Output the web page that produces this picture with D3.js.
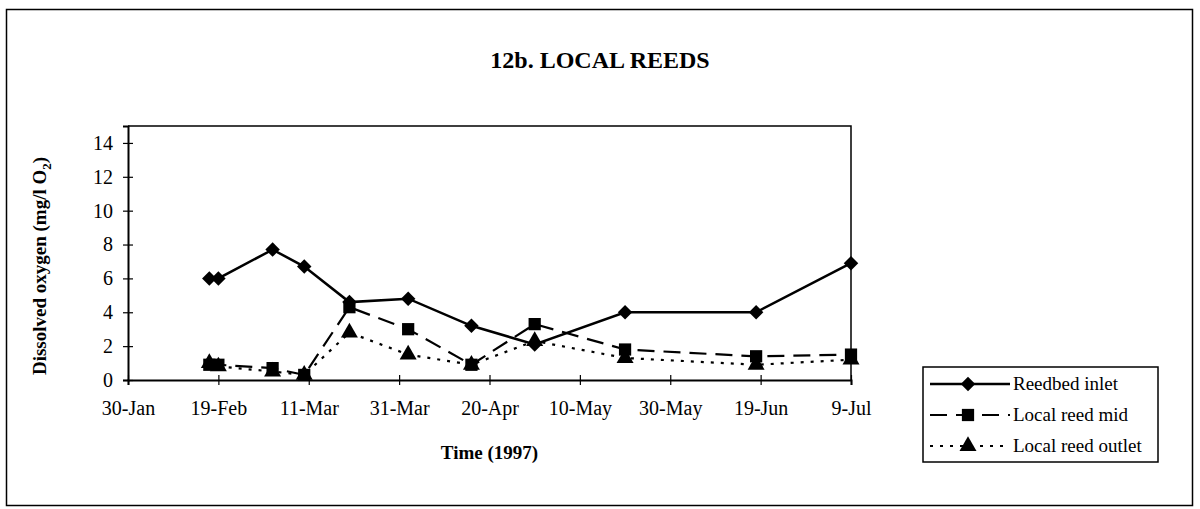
<!DOCTYPE html>
<html>
<head>
<meta charset="utf-8">
<script src="https://cdn.jsdelivr.net/npm/d3@7"></script>
<style>
  body { margin: 0; background: #fff; }
  svg { display: block; }
  text { font-family: "Liberation Serif", "Times New Roman", serif; fill: #000; }
</style>
</head>
<body>
<svg id="chart"></svg>
<script>
// Data (mg/l O2)
const dates = ['1997-02-17', '1997-02-19', '1997-03-03', '1997-03-10', '1997-03-20',
               '1997-04-02', '1997-04-16', '1997-04-30', '1997-05-20', '1997-06-18', '1997-07-09'];
const inlet  = [6.0, 6.0, 7.7, 6.7, 4.6, 4.8, 3.2, 2.1, 4.0, 4.0, 6.9];
const mid    = [0.9, 0.9, 0.7, 0.3, 4.3, 3.0, 0.9, 3.3, 1.8, 1.4, 1.5];
const outlet = [1.0, 0.8, 0.5, 0.3, 2.8, 1.5, 0.9, 2.3, 1.3, 0.9, 1.2];
const xTicks = ['1997-01-30', '1997-02-19', '1997-03-11', '1997-03-31', '1997-04-20',
                '1997-05-10', '1997-05-30', '1997-06-19', '1997-07-09'];
const yTicks = [0, 2, 4, 6, 8, 10, 12, 14];
const seriesNames = ['Reedbed inlet', 'Local reed mid', 'Local reed outlet'];

const W = 1200, H = 509;
const plotLeft = 128, plotRight = 851, plotTop = 126, plotBottom = 380;

const parse = d3.timeParse('%Y-%m-%d');
const fmt = d3.timeFormat('%-d-%b');

const svg = d3.select('#chart').attr('width', W).attr('height', H);

// outer frame
svg.append('rect')
    .attr('x', 6.5).attr('y', 9.5)
    .attr('width', 1186).attr('height', 496)
    .attr('fill', 'none').attr('stroke', '#000').attr('stroke-width', 1.5);

// title
svg.append('text')
    .attr('x', 600).attr('y', 68)
    .attr('text-anchor', 'middle')
    .style('font-weight', 'bold').style('font-size', '24px')
    .text('12b. LOCAL REEDS');

const x = d3.scaleTime()
    .domain([parse(xTicks[0]), parse(xTicks[xTicks.length - 1])])
    .range([plotLeft, plotRight]);
const y = d3.scaleLinear().domain([0, 15]).range([plotBottom, plotTop]);

// plot box (top and right)
svg.append('path')
    .attr('d', `M${plotLeft},${plotTop}H${plotRight}V${plotBottom}`)
    .attr('fill', 'none').attr('stroke', '#000').attr('stroke-width', 1.5);

// axes
const xAxis = svg.append('g')
    .attr('transform', `translate(0,${plotBottom})`)
    .call(d3.axisBottom(x).tickValues(xTicks.map(parse)).tickFormat(fmt).tickSize(5).tickPadding(16));
const yAxis = svg.append('g')
    .attr('transform', `translate(${plotLeft},0)`)
    .call(d3.axisLeft(y).tickValues(yTicks).tickSize(5).tickPadding(10));

[xAxis, yAxis].forEach(g => {
    g.select('.domain').attr('stroke', '#000').attr('stroke-width', 2);
    g.selectAll('text').style('font-size', '20px').style('font-family', '"Liberation Serif", serif');
});
// ticks cross the axis
xAxis.selectAll('.tick line').attr('y1', -5).attr('stroke-width', 1.2);
yAxis.selectAll('.tick line').attr('x1', 5).attr('stroke-width', 1.2);

// axis titles
svg.append('text')
    .attr('x', (plotLeft + plotRight) / 2).attr('y', 459)
    .attr('text-anchor', 'middle')
    .style('font-weight', 'bold').style('font-size', '19px')
    .text('Time (1997)');

const yt = svg.append('text')
    .attr('transform', `translate(46,266) rotate(-90)`)
    .attr('text-anchor', 'middle')
    .style('font-weight', 'bold').style('font-size', '19px');
yt.append('tspan').text('Dissolved oxygen (mg/l O');
yt.append('tspan').attr('dy', 5).style('font-size', '13px').text('2');
yt.append('tspan').attr('dy', -5).text(')');

// series
const styles = [
    { values: inlet,  dash: null,   marker: d3.symbolSquare,   size: 105, rot: 45, width: 2.5 },
    { values: mid,    dash: '17,9', marker: d3.symbolSquare,   size: 150, rot: 0,  width: 2.2 },
    { values: outlet, dash: '3,7',  marker: d3.symbolTriangle, size: 125, rot: 0,  width: 2.2 }
];

const line = d3.line().x(d => x(d.date)).y(d => y(d.value));

styles.forEach(s => {
    const pts = dates.map((d, i) => ({ date: parse(d), value: s.values[i] }));
    svg.append('path')
        .datum(pts)
        .attr('d', line)
        .attr('fill', 'none')
        .attr('stroke', '#000')
        .attr('stroke-width', s.width)
        .attr('stroke-dasharray', s.dash);
    svg.append('g').selectAll('path')
        .data(pts)
        .join('path')
        .attr('transform', d => `translate(${x(d.date)},${y(d.value)}) rotate(${s.rot})`)
        .attr('d', d3.symbol(s.marker, s.size))
        .attr('fill', '#000');
});

// legend
const lg = svg.append('g').attr('transform', 'translate(923,367)');
lg.append('rect')
    .attr('width', 235).attr('height', 95)
    .attr('fill', '#fff').attr('stroke', '#000').attr('stroke-width', 1.5);
styles.forEach((s, i) => {
    const cy = 17 + i * 31;
    lg.append('line')
        .attr('x1', 7).attr('x2', 87).attr('y1', cy).attr('y2', cy)
        .attr('stroke', '#000').attr('stroke-width', s.width)
        .attr('stroke-dasharray', s.dash);
    lg.append('path')
        .attr('transform', `translate(45,${cy}) rotate(${s.rot})`)
        .attr('d', d3.symbol(s.marker, s.size))
        .attr('fill', '#000');
    lg.append('text')
        .attr('x', 90).attr('y', cy + 6)
        .style('font-size', '19px')
        .text(seriesNames[i]);
});
</script>
</body>
</html>
